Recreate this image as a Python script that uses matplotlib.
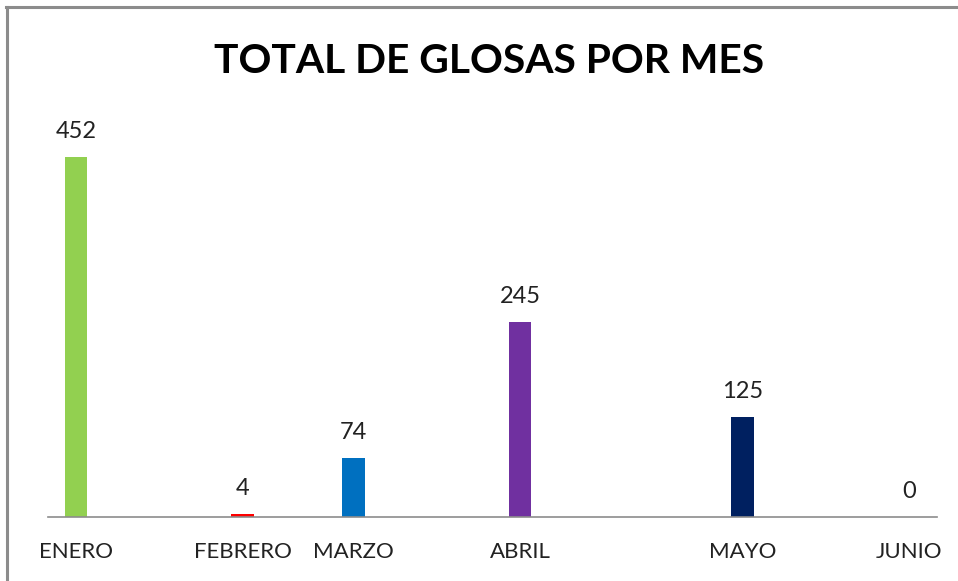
import matplotlib
matplotlib.use("Agg")
import matplotlib.pyplot as plt
from matplotlib.lines import Line2D

# Data
months = ["ENERO", "FEBRERO", "MARZO", "ABRIL", "MAYO", "JUNIO"]
values = [452, 4, 74, 245, 125, 0]
slots = [0, 3, 5, 8, 12, 15]   # category slot positions on the (16-slot) axis
colors = ["#92D050", "#FF0000", "#0070C0", "#7030A0", "#002060", "#002060"]
title = "TOTAL DE GLOSAS POR MES"

W, H = 958, 581
fig = plt.figure(figsize=(W / 100, H / 100), dpi=100)
fig.patch.set_facecolor("white")

# plot area: x 48..937 px, baseline at y=517 px, ylim top 500
ax_left = 48 / W
ax_right = 937 / W
ax_bottom = 1 - 517 / H
ymax = 500
px_per_unit = 360 / 452
ax_h = ymax * px_per_unit / H
ax = fig.add_axes([ax_left, ax_bottom, ax_right - ax_left, ax_h])

ax.bar(slots, values, width=0.4, color=colors, zorder=2)
ax.set_xlim(-0.5, 15.5)
ax.set_ylim(0, ymax)

for s in ["top", "right", "left"]:
    ax.spines[s].set_visible(False)
ax.spines["bottom"].set_color("#8C8C8C")
ax.spines["bottom"].set_linewidth(1.2)
ax.set_yticks([])
ax.set_xticks(slots)
ax.set_xticklabels(months, fontfamily="Lato", fontsize=16, color="#222222")
ax.tick_params(axis="x", length=0, pad=18)

for x, v in zip(slots, values):
    ax.annotate(str(v), xy=(x, v), xytext=(0, 13.7), textcoords="offset points",
                ha="center", va="baseline", fontfamily="Lato", fontsize=17,
                color="#222222")

fig.text(489.5 / W, 1 - 73 / H, title, ha="center", va="baseline",
         fontfamily="Lato", fontweight="bold", fontsize=29.3, color="black")

# chart border (top and left visible)
fig.add_artist(Line2D([6 / W, 1.0], [1 - 7 / H, 1 - 7 / H], color="#8C8C8C", lw=2.2,
                      transform=fig.transFigure))
fig.add_artist(Line2D([7 / W, 7 / W], [0, 1 - 7 / H], color="#8C8C8C", lw=2.2,
                      transform=fig.transFigure))

fig.savefig("out.png", dpi=100, facecolor="white")
